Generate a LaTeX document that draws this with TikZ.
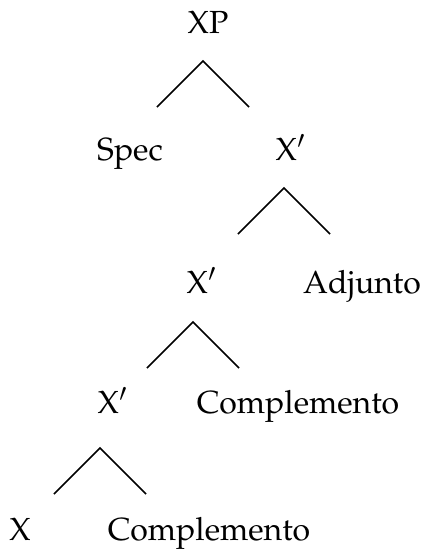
\documentclass[tikz,border=0pt]{standalone}
\usepackage[T1]{fontenc}
\usepackage{mathpazo}
\usepackage{tikz}

\tikzset{
  cat/.style={anchor=base, inner sep=0pt, font=\fontsize{10}{12}\selectfont},
  fan/.style={line width=0.45pt}
}

\begin{document}
\begin{tikzpicture}[x=0.3125pt, y=-0.3125pt]
  % Marco: 425 x 554 px
  \useasboundingbox (0,0) rectangle (425,554);

  % Nodos por nivel
  \node[cat] (xp)    at (208,33)  {XP};
  \node[cat] (spec)  at (130,160) {Spec};
  \node[cat] (xbarA) at (291,160) {X$'$};
  \node[cat] (xbarB) at (202,293) {X$'$};
  \node[cat] (adj)   at (362,293) {Adjunto};
  \node[cat] (xbarC) at (113,413) {X$'$};
  \node[cat] (compA) at (298,413) {Complemento};
  \node[cat] (xhead) at (20,540)  {X};
  \node[cat] (compB) at (209,540) {Complemento};

  % Vértices de las ramas
  \coordinate (apxp) at (203,61);
  \coordinate (apA)  at (284,188);
  \coordinate (apB)  at (193,322);
  \coordinate (apC)  at (100,448);

  \foreach \a in {apxp, apA, apB, apC} {
    \draw[fan] ([shift={(-46,46)}]\a) -- (\a) -- ([shift={(46,46)}]\a);
  }
\end{tikzpicture}
\end{document}
